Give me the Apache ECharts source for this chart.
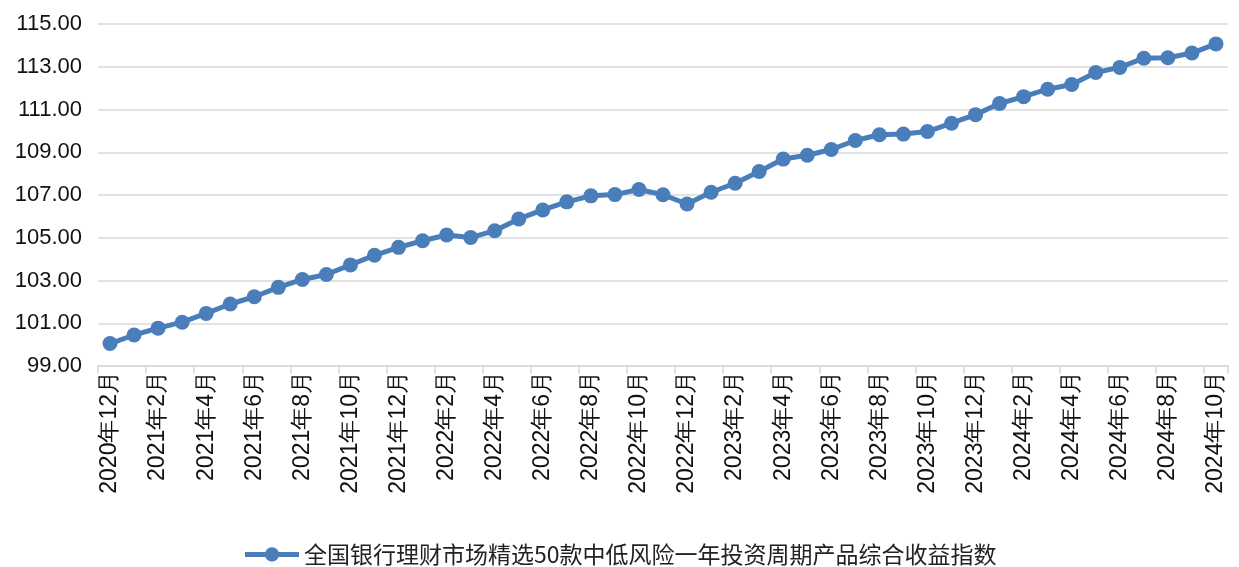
<!DOCTYPE html>
<html>
<head>
<meta charset="utf-8">
<style>
    html, body { margin: 0; padding: 0; background: #fff; }
    #chart { width: 1239px; height: 567px; }
</style>
<script src="https://cdn.jsdelivr.net/npm/echarts@6/dist/echarts.min.js"></script>
</head>
<body>
<div id="chart"></div>
<script>
    var months = [
        '2020年12月', '2021年1月', '2021年2月', '2021年3月', '2021年4月', '2021年5月',
        '2021年6月', '2021年7月', '2021年8月', '2021年9月', '2021年10月', '2021年11月',
        '2021年12月', '2022年1月', '2022年2月', '2022年3月', '2022年4月', '2022年5月',
        '2022年6月', '2022年7月', '2022年8月', '2022年9月', '2022年10月', '2022年11月',
        '2022年12月', '2023年1月', '2023年2月', '2023年3月', '2023年4月', '2023年5月',
        '2023年6月', '2023年7月', '2023年8月', '2023年9月', '2023年10月', '2023年11月',
        '2023年12月', '2024年1月', '2024年2月', '2024年3月', '2024年4月', '2024年5月',
        '2024年6月', '2024年7月', '2024年8月', '2024年9月', '2024年10月'
    ];
    var indexValues = [
        100.05, 100.45, 100.77, 101.05, 101.46, 101.90,
        102.24, 102.68, 103.05, 103.28, 103.73, 104.18,
        104.55, 104.86, 105.13, 105.01, 105.33, 105.88,
        106.30, 106.68, 106.96, 107.02, 107.26, 107.01,
        106.58, 107.13, 107.55, 108.10, 108.68, 108.86,
        109.13, 109.55, 109.82, 109.85, 109.97, 110.36,
        110.76, 111.28, 111.60, 111.95, 112.17, 112.73,
        112.97, 113.40, 113.42, 113.64, 114.07
    ];
    var seriesName = '全国银行理财市场精选50款中低风险一年投资周期产品综合收益指数';
    var yMin = 99, yMax = 115, yStep = 2;

    var chart = echarts.init(document.getElementById('chart'));
    var option = {
        animation: false,
        color: ['#4a7ebb'],
        grid: {
            left: 98,
            right: 11,
            top: 24,
            bottom: 201,
            containLabel: false
        },
        legend: {
            left: 'center',
            top: 538,
            itemWidth: 54,
            itemHeight: 18,
            itemGap: 10,
            lineStyle: {width: 5},
            textStyle: {
                fontFamily: 'Noto Sans CJK SC',
                fontSize: 23,
                color: '#222'
            },
            data: [seriesName]
        },
        xAxis: {
            type: 'category',
            boundaryGap: true,
            data: months,
            axisLine: {lineStyle: {color: '#d9d9d9', width: 1.5}},
            axisTick: {show: true, interval: 1, length: 8, lineStyle: {color: '#d9d9d9', width: 1.5}},
            axisLabel: {
                interval: 1,
                rotate: 90,
                margin: 5,
                fontFamily: 'Liberation Sans',
                fontSize: 23,
                color: '#111'
            }
        },
        yAxis: {
            type: 'value',
            min: yMin,
            max: yMax,
            interval: yStep,
            axisLine: {show: false},
            axisTick: {show: false},
            splitLine: {lineStyle: {color: '#d9d9d9', width: 1.5}},
            axisLabel: {
                margin: 16,
                fontFamily: 'Liberation Sans',
                fontSize: 22,
                color: '#111',
                formatter: function (v) { return v.toFixed(2); }
            }
        },
        series: [
            {
                name: seriesName,
                type: 'line',
                data: indexValues,
                symbol: 'circle',
                symbolSize: 15,
                lineStyle: {width: 5},
                itemStyle: {color: '#4a7ebb'}
            }
        ]
    };
    chart.setOption(option);
</script>
</body>
</html>
